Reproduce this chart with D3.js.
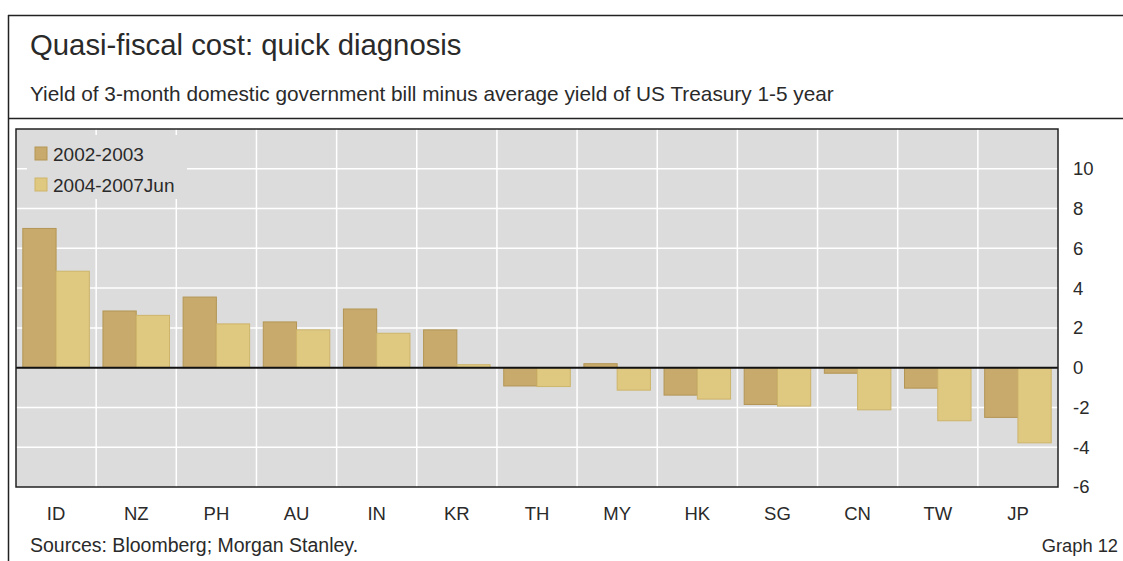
<!DOCTYPE html>
<html>
<head>
<meta charset="utf-8">
<script src="https://cdn.jsdelivr.net/npm/d3@7"></script>
<style>
  body { margin: 0; background: #fff; }
  svg { display: block; font-family: "Liberation Sans", Arial, sans-serif; }
</style>
</head>
<body>
<svg width="1123" height="561"></svg>
<script>
const categories = ["ID", "NZ", "PH", "AU", "IN", "KR", "TH", "MY", "HK", "SG", "CN", "TW", "JP"];
const series = ["2002-2003", "2004-2007Jun"];
const values2002 = [7.0, 2.85, 3.55, 2.3, 2.95, 1.9, -0.92, 0.2, -1.38, -1.85, -0.28, -1.03, -2.5];
const values2004 = [4.85, 2.63, 2.2, 1.9, 1.73, 0.15, -0.95, -1.13, -1.58, -1.93, -2.12, -2.67, -3.78];
const yTicks = [-6, -4, -2, 0, 2, 4, 6, 8, 10];

const svg = d3.select("svg");
const ink = "#2a2a2a";

// frame round the whole graph
svg.append("line").attr("x1", 8).attr("x2", 1123).attr("y1", 15.5).attr("y2", 15.5)
  .attr("stroke", "#222").attr("stroke-width", 1.5);
svg.append("line").attr("x1", 8.5).attr("x2", 8.5).attr("y1", 15).attr("y2", 561)
  .attr("stroke", "#222").attr("stroke-width", 1.5);
svg.append("line").attr("x1", 8).attr("x2", 1123).attr("y1", 118.5).attr("y2", 118.5)
  .attr("stroke", "#222").attr("stroke-width", 1.5);

svg.append("text").attr("x", 30).attr("y", 55)
  .attr("font-size", 29.3).attr("fill", ink)
  .text("Quasi-fiscal cost: quick diagnosis");
svg.append("text").attr("x", 30).attr("y", 100.5)
  .attr("font-size", 20.8).attr("fill", ink)
  .text("Yield of 3-month domestic government bill minus average yield of US Treasury 1-5 year");

// plot area
const pLeft = 16, pRight = 1058, pTop = 129, pBottom = 487;

const x0 = d3.scaleBand().domain(categories).range([pLeft, pRight])
  .paddingInner(0.17).paddingOuter(0.085);
const x1 = d3.scaleBand().domain(series).range([0, x0.bandwidth()]);
const y = d3.scaleLinear().domain([-6, 12]).range([pBottom, pTop]);
const color = d3.scaleOrdinal().domain(series).range(["#c8aa6c", "#dfc880"]);
const stroke = d3.scaleOrdinal().domain(series).range(["#b39655", "#cdb46a"]);

svg.append("rect").attr("x", pLeft).attr("y", pTop)
  .attr("width", pRight - pLeft).attr("height", pBottom - pTop)
  .attr("fill", "#dcdcdc");

// grid
const step = x0.step();
const bounds = categories.slice(1).map(c => x0(c) - step * x0.paddingInner() / 2);
svg.append("g").selectAll("line").data(bounds).join("line")
  .attr("x1", d => d).attr("x2", d => d).attr("y1", pTop).attr("y2", pBottom)
  .attr("stroke", "#fff").attr("stroke-width", 1.5);
svg.append("g").selectAll("line").data(yTicks.filter(v => v !== 0 && v !== -6)).join("line")
  .attr("x1", pLeft).attr("x2", pRight).attr("y1", d => y(d)).attr("y2", d => y(d))
  .attr("stroke", "#fff").attr("stroke-width", 1.5);

// legend box covers the grid
svg.append("rect").attr("x", 27).attr("y", 135).attr("width", 160).attr("height", 64)
  .attr("fill", "#dcdcdc");
const legend = svg.append("g").selectAll("g").data(series).join("g")
  .attr("transform", (d, i) => `translate(35,${147 + i * 31})`);
legend.append("rect").attr("width", 12).attr("height", 13)
  .attr("fill", d => color(d)).attr("stroke", d => stroke(d));
legend.append("text").attr("x", 18).attr("y", 14)
  .attr("font-size", 19).attr("fill", ink).text(d => d);

// bars
const rows = categories.map((c, i) => ({ cat: c, vals: [values2002[i], values2004[i]] }));
svg.append("g").selectAll("g").data(rows).join("g")
  .attr("transform", d => `translate(${x0(d.cat)},0)`)
  .selectAll("rect").data(d => d.vals.map((v, i) => ({ key: series[i], v })))
  .join("rect")
  .attr("x", d => x1(d.key))
  .attr("y", d => y(Math.max(0, d.v)))
  .attr("width", x1.bandwidth())
  .attr("height", d => Math.abs(y(d.v) - y(0)))
  .attr("fill", d => color(d.key))
  .attr("stroke", d => stroke(d.key))
  .attr("stroke-width", 1);

// zero line and border
svg.append("line").attr("x1", pLeft).attr("x2", pRight).attr("y1", y(0)).attr("y2", y(0))
  .attr("stroke", "#111").attr("stroke-width", 2);
svg.append("rect").attr("x", pLeft).attr("y", pTop)
  .attr("width", pRight - pLeft).attr("height", pBottom - pTop)
  .attr("fill", "none").attr("stroke", "#222").attr("stroke-width", 1.5);

// y axis on the right
const yAxis = svg.append("g").attr("transform", `translate(${pRight},0)`)
  .call(d3.axisRight(y).tickValues(yTicks).tickSize(0).tickPadding(15).tickFormat(d => String(d)));
yAxis.select(".domain").remove();
yAxis.selectAll("text").attr("font-size", 18.5).attr("fill", ink)
  .attr("font-family", "Liberation Sans, Arial, sans-serif");

// x labels
const xAxis = svg.append("g").attr("transform", `translate(0,${pBottom})`)
  .call(d3.axisBottom(x0).tickSize(0).tickPadding(20));
xAxis.select(".domain").remove();
xAxis.selectAll("text").attr("font-size", 18.5).attr("fill", ink)
  .attr("font-family", "Liberation Sans, Arial, sans-serif");

svg.append("text").attr("x", 30).attr("y", 551.5)
  .attr("font-size", 19.5).attr("fill", ink)
  .text("Sources: Bloomberg; Morgan Stanley.");
svg.append("text").attr("x", 1118).attr("y", 551.5).attr("text-anchor", "end")
  .attr("font-size", 18.3).attr("fill", ink)
  .text("Graph 12");
</script>
</body>
</html>
